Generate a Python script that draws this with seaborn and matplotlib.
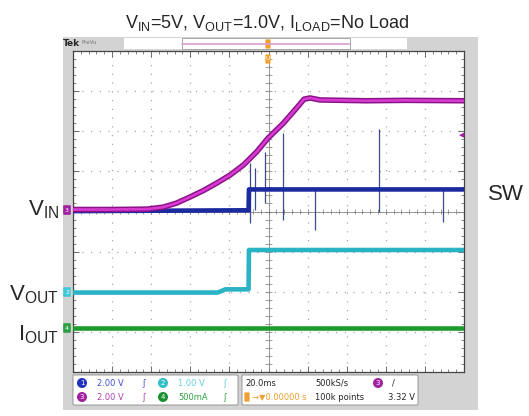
import numpy as np
import pandas as pd
import seaborn as sns
import matplotlib.pyplot as plt
from matplotlib import ticker
from matplotlib.patches import Rectangle, FancyBboxPatch, Circle

# traces in divisions (x 0-10, y 0-8 from the bottom)
vin_t = [0.0, 1.0, 1.90, 2.31, 2.65, 2.99, 3.33, 3.68, 4.02, 4.36, 4.70, 4.99, 5.38, 5.72,
         5.91, 6.06, 6.32, 7.5, 8.5, 10.0]
vin_v = [4.05, 4.05, 4.06, 4.11, 4.21, 4.36, 4.52, 4.71, 4.91, 5.16, 5.49, 5.83, 6.20, 6.58,
         6.80, 6.83, 6.78, 6.76, 6.77, 6.76]

sw_t = [0.0, 2.2, 4.49, 4.50, 10.0]
sw_v = [4.01, 4.02, 4.03, 4.55, 4.55]

spike_t = [4.53, 4.65, 4.91, 5.37, 6.19, 7.83, 9.46]
spike_lo = [3.72, 4.04, 4.20, 3.79, 3.54, 3.99, 3.74]
spike_hi = [5.21, 5.09, 5.49, 5.96, 4.55, 6.06, 4.55]

vout_t = [0.0, 3.70, 3.90, 4.49, 4.50, 10.0]
vout_v = [1.98, 1.98, 2.06, 2.06, 3.04, 3.04]

iout_t = [0.0, 10.0]
iout_v = [1.09, 1.09]

sns.set_theme(style="white")
plt.rcParams['font.family'] = ['Liberation Sans', 'DejaVu Sans']
plt.rcParams['mathtext.fontset'] = 'custom'
plt.rcParams['mathtext.rm'] = 'Liberation Sans'

W, H = 529, 416
fig = plt.figure(figsize=(W / 100, H / 100), dpi=100)
fig.patch.set_facecolor('white')

# gray bezel behind the screen
bg = fig.add_axes([0, 0, 1, 1], zorder=0)
bg.set_xlim(0, W)
bg.set_ylim(H, 0)
bg.axis('off')
bg.add_patch(Rectangle((63, 37), 415, 373, facecolor='#d3d3d3', edgecolor='none'))

# scope screen
ax = fig.add_axes([73 / W, (H - 372) / H, 391 / W, 321 / H], zorder=1)
ax.set_facecolor('white')
ax.set_xlim(0, 10)
ax.set_ylim(0, 8)

ax.xaxis.set_major_locator(ticker.MultipleLocator(1))
ax.yaxis.set_major_locator(ticker.MultipleLocator(1))
ax.xaxis.set_minor_locator(ticker.MultipleLocator(0.2))
ax.yaxis.set_minor_locator(ticker.MultipleLocator(0.2))
ax.tick_params(which='both', direction='in', top=True, right=True, bottom=True, left=True,
               labelbottom=False, labelleft=False, color='#555555')
ax.tick_params(which='major', length=4, width=0.6)
ax.tick_params(which='minor', length=2.5, width=0.5)
ax.grid(True, which='major', color='#a8a8a8', linestyle=(0, (1, 6)), linewidth=0.9)
for s in ax.spines.values():
    s.set_color('#444444')
    s.set_linewidth(0.9)

# center cross with small ticks
ax.axvline(5, color='#888888', lw=0.6, zorder=1)
ax.axhline(4, color='#888888', lw=0.6, zorder=1)
mt = np.arange(0, 10.01, 0.2)
ax.vlines(mt, 3.93, 4.07, color='#777777', lw=0.5, zorder=1)
mt = np.arange(0, 8.01, 0.2)
ax.hlines(mt, 4.92, 5.08, color='#777777', lw=0.5, zorder=1)

df_sw = pd.DataFrame({'t': sw_t, 'v': sw_v})
df_vin = pd.DataFrame({'t': vin_t, 'v': vin_v})
df_vout = pd.DataFrame({'t': vout_t, 'v': vout_v})
df_iout = pd.DataFrame({'t': iout_t, 'v': iout_v})

ax.vlines(spike_t, spike_lo, spike_hi, color='#3a4a8c', lw=0.9, zorder=2)
sns.lineplot(data=df_sw, x='t', y='v', ax=ax, color='#1b2a9e', lw=3.3, zorder=3,
             estimator=None, sort=False)
sns.lineplot(data=df_iout, x='t', y='v', ax=ax, color='#1f9a2e', lw=3.3, zorder=3,
             estimator=None, sort=False)
sns.lineplot(data=df_vout, x='t', y='v', ax=ax, color='#2ab3c4', lw=3.3, zorder=3,
             estimator=None, sort=False)
sns.lineplot(data=df_vin, x='t', y='v', ax=ax, color='#8a1288', lw=4.0, zorder=4,
             estimator=None, sort=False)
sns.lineplot(data=df_vin, x='t', y='v', ax=ax, color='#d83ad0', lw=1.9, zorder=4,
             estimator=None, sort=False)
ax.set_xlabel('')
ax.set_ylabel('')

# overlay for labels and scope decorations, pixel coordinates
ov = fig.add_axes([0, 0, 1, 1], zorder=5)
ov.set_xlim(0, W)
ov.set_ylim(H, 0)
ov.axis('off')
ov.patch.set_alpha(0)

ov.text(267, 28, r'$\mathregular{V_{IN}}$=5V, $\mathregular{V_{OUT}}$=1.0V, $\mathregular{I_{LOAD}}$=No Load',
        ha='center', va='baseline', fontsize=13)
ov.text(59, 215, r'$\mathregular{V_{IN}}$', ha='right', va='baseline', fontsize=16)
ov.text(59, 300, r'$\mathregular{V_{OUT}}$', ha='right', va='baseline', fontsize=16)
ov.text(59, 340, r'$\mathregular{I_{OUT}}$', ha='right', va='baseline', fontsize=16)
ov.text(488, 200, 'SW', ha='left', va='baseline', fontsize=16)

# top status bar
ov.add_patch(Rectangle((124, 38), 283, 11, facecolor='white', edgecolor='none'))
ov.add_patch(Rectangle((182, 38), 168, 11, facecolor='white', edgecolor='#999999', lw=0.6))
ov.plot([182, 350], [43.5, 43.5], color='#d9a0d6', lw=1.2)
ov.text(63, 44, 'Tek', fontsize=6.5, fontweight='bold', ha='left', va='center', family='DejaVu Sans')
ov.text(82, 43, 'PreVu', fontsize=4, color='#777777', ha='left', va='center', family='DejaVu Sans')
ov.add_patch(FancyBboxPatch((266, 40), 4, 8, boxstyle='round,pad=0.6', facecolor='#f0a030',
                            edgecolor='none'))
ov.add_patch(FancyBboxPatch((266, 55), 4, 8, boxstyle='round,pad=0.6', facecolor='#f0a030',
                            edgecolor='none'))
ov.text(268, 59, 'U', fontsize=4.5, color='white', ha='center', va='center', family='DejaVu Sans')

# channel markers on the left edge and trigger level marker
for y, c, n in [(210, '#a020a0', '3'), (292, '#40c8d8', '2'), (328, '#2aa040', '4')]:
    ov.add_patch(FancyBboxPatch((64, y - 4), 6, 8, boxstyle='round,pad=0.8', facecolor=c,
                                edgecolor='none'))
    ov.text(67, y, n, fontsize=4.5, color='white', ha='center', va='center', family='DejaVu Sans')
ov.text(462, 135, '◀', fontsize=5, color='#a020a0', ha='center', va='center', family='DejaVu Sans')

# bottom info boxes
ov.add_patch(FancyBboxPatch((74, 376), 163, 28, boxstyle='round,pad=1', facecolor='white',
                            edgecolor='#888888', lw=0.6))
ov.add_patch(FancyBboxPatch((243, 376), 174, 28, boxstyle='round,pad=1', facecolor='white',
                            edgecolor='#888888', lw=0.6))
chans = [(82, 383, '#2030c0', '1', '2.00 V', '#4050d0'),
         (82, 397, '#a020a0', '3', '2.00 V', '#b040b0'),
         (163, 383, '#30c0c8', '2', '1.00 V', '#60d0e0'),
         (163, 397, '#1a9030', '4', '500mA', '#30a040')]
for x, y, c, n, lab, tc in chans:
    ov.add_patch(Circle((x, y), 5, facecolor=c, edgecolor='none'))
    ov.text(x, y, n, fontsize=5, color='white', ha='center', va='center', family='DejaVu Sans')
    ov.text(x + 15, y, lab, fontsize=6, color=tc, ha='left', va='center', family='DejaVu Sans')
    ov.text(x + 60, y, 'ʃ', fontsize=6, color=tc, ha='left', va='center', family='DejaVu Sans')

ov.text(245, 383, '20.0ms', fontsize=6, ha='left', va='center', family='DejaVu Sans')
ov.text(315, 383, '500kS/s', fontsize=6, ha='left', va='center', family='DejaVu Sans')
ov.text(315, 397, '100k points', fontsize=6, ha='left', va='center', family='DejaVu Sans')
ov.add_patch(Circle((378, 383), 5, facecolor='#a020a0', edgecolor='none'))
ov.text(378, 383, '3', fontsize=5, color='white', ha='center', va='center', family='DejaVu Sans')
ov.text(392, 383, '/', fontsize=6, ha='left', va='center', family='DejaVu Sans')
ov.text(388, 397, '3.32 V', fontsize=6, ha='left', va='center', family='DejaVu Sans')
ov.add_patch(FancyBboxPatch((245, 393), 4, 8, boxstyle='round,pad=0.6', facecolor='#f0a030',
                            edgecolor='none'))
ov.text(252, 397, '→▼0.00000 s', fontsize=6, color='#f0a030', ha='left', va='center',
        family='DejaVu Sans')

fig.savefig('out.png', dpi=100)
